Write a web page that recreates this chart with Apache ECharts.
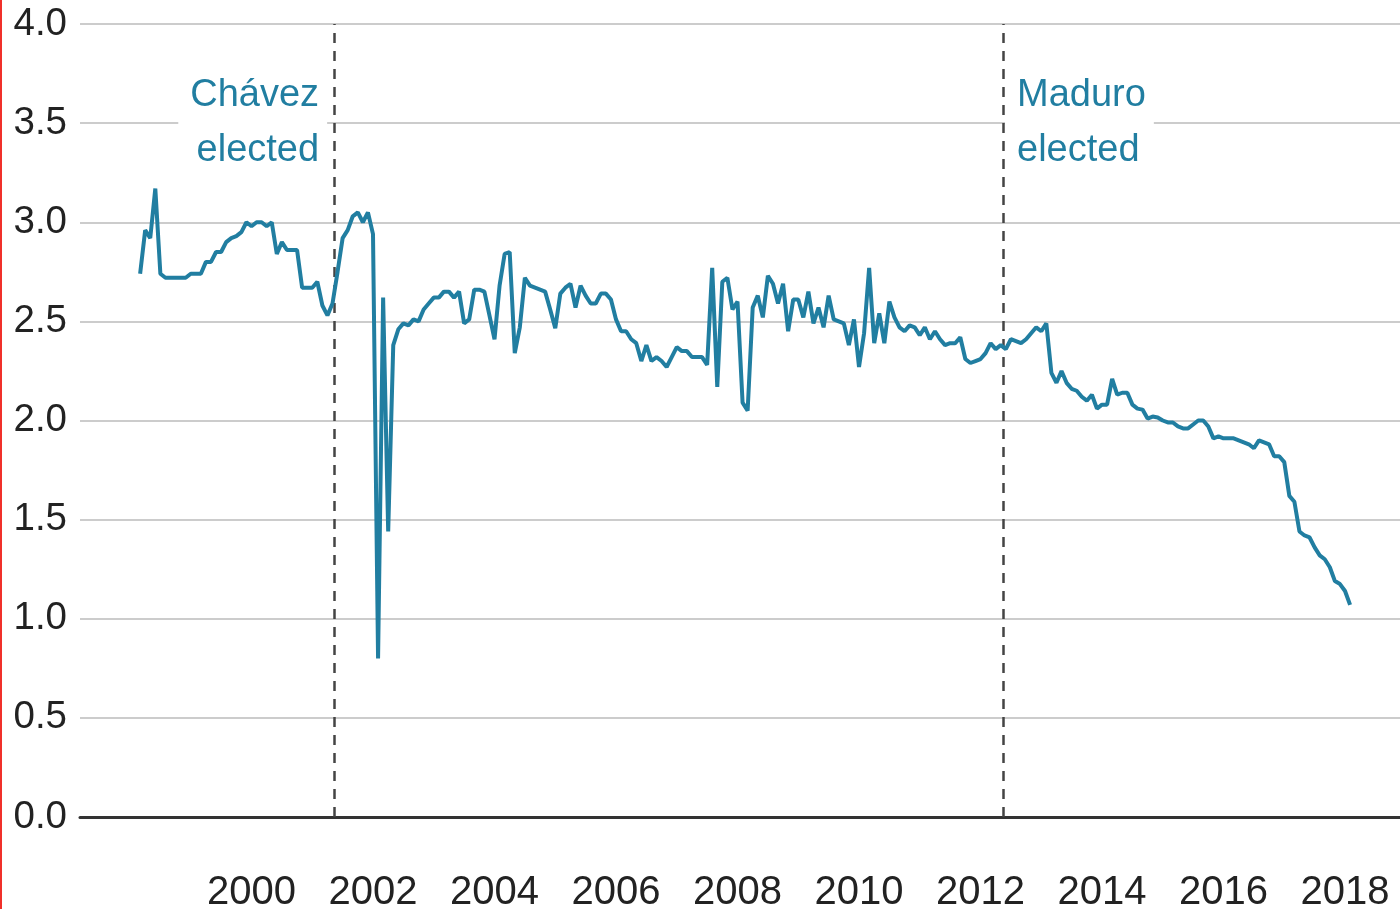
<!DOCTYPE html>
<html><head><meta charset="utf-8">
<script src="https://cdn.jsdelivr.net/npm/echarts@6/dist/echarts.min.js"></script>
<style>html,body{margin:0;padding:0;background:#fff}#c{width:1400px;height:909px}#edge{position:absolute;left:0;top:0;width:2px;height:909px;background:#f0302a}</style>
</head><body><div id="c"></div><div id="edge"></div>
<script>
// Monthly series, first value = March 1998
const START_YEAR = 1998, START_MONTH = 3;
const values = [
  2.74,2.96,2.92,3.17,2.74,2.72,2.72,2.72,2.72,2.72,
  2.74,2.74,2.74,2.80,2.80,2.85,2.85,2.90,2.92,2.93,
  2.95,3.00,2.98,3.00,3.00,2.98,3.00,2.84,2.90,2.86,
  2.86,2.86,2.67,2.67,2.67,2.70,2.58,2.53,2.59,2.75,
  2.92,2.96,3.03,3.05,3.00,3.05,2.94,0.80,2.62,1.44,
  2.38,2.46,2.49,2.48,2.51,2.50,2.56,2.59,2.62,2.62,
  2.65,2.65,2.62,2.65,2.49,2.51,2.66,2.66,2.65,2.53,
  2.41,2.68,2.84,2.85,2.34,2.47,2.72,2.68,2.67,2.66,
  2.65,2.56,2.465,2.64,2.67,2.69,2.57,2.68,2.63,2.59,
  2.59,2.64,2.64,2.61,2.51,2.45,2.45,2.41,2.39,2.30,
  2.38,2.30,2.32,2.30,2.27,2.32,2.37,2.35,2.35,2.32,
  2.32,2.32,2.28,2.77,2.17,2.70,2.72,2.56,2.60,2.09,
  2.05,2.57,2.63,2.52,2.73,2.69,2.59,2.69,2.45,2.61,
  2.61,2.52,2.65,2.49,2.57,2.47,2.63,2.51,2.50,2.49,
  2.38,2.51,2.27,2.44,2.77,2.39,2.54,2.39,2.60,2.52,
  2.47,2.45,2.48,2.47,2.43,2.47,2.41,2.45,2.41,2.38,
  2.39,2.39,2.42,2.31,2.29,2.30,2.31,2.34,2.39,2.36,
  2.38,2.36,2.41,2.40,2.39,2.41,2.44,2.47,2.45,2.49,
  2.24,2.19,2.25,2.19,2.16,2.15,2.12,2.10,2.13,2.06,
  2.08,2.08,2.21,2.13,2.14,2.14,2.08,2.06,2.055,2.01,
  2.02,2.015,2.00,1.99,1.99,1.97,1.96,1.96,1.98,2.00,
  2.00,1.97,1.91,1.92,1.91,1.91,1.91,1.90,1.89,1.88,
  1.86,1.90,1.89,1.88,1.82,1.82,1.79,1.62,1.59,1.44,
  1.42,1.41,1.36,1.32,1.30,1.26,1.19,1.175,1.14,1.07
];
const xTickYears = [2000,2002,2004,2006,2008,2010,2012,2014,2016,2018];
const yMin = 0, yMax = 4, yStep = 0.5;
const eventYears = [2001.36, 2012.37];
const eventLabels = ['Chávez\nelected', 'Maduro\nelected'];
const eventLabelLevel = 3.5;

const seriesData = values.map((v, i) => [START_YEAR + (START_MONTH - 1 + i) / 12, v]);
const FONT = '"Liberation Sans", Arial, Helvetica, sans-serif';
const TEAL = '#217ea1';

const chart = echarts.init(document.getElementById('c'), null, {renderer: 'canvas'});
chart.setOption({
  animation: false,
  backgroundColor: '#fff',
  grid: {left: 80, right: 0, top: 24, bottom: 92, containLabel: false, outerBoundsMode: 'none'},
  xAxis: {
    type: 'value', min: 1997.177, max: 2018.905,
    axisLine: {show: true, onZero: true, lineStyle: {color: '#333', width: 3}},
    axisTick: {show: false},
    splitLine: {show: false},
    axisLabel: {
      customValues: xTickYears, margin: 56,
      fontFamily: FONT, fontSize: 40, color: '#222',
      formatter: v => String(Math.round(v))
    }
  },
  yAxis: {
    type: 'value', min: yMin, max: yMax, interval: yStep,
    axisLine: {show: false}, axisTick: {show: false},
    splitLine: {show: true, lineStyle: {color: '#cccccc', width: 2}},
    axisLabel: {margin: 13, fontFamily: FONT, fontSize: 38.5, color: '#222', padding: [8, 0, 0, 0],
      formatter: v => v.toFixed(1)}
  },
  series: [{
    type: 'line', data: seriesData, showSymbol: false, symbol: 'none',
    lineStyle: {color: TEAL, width: 4}, z: 5,
    markLine: {
      silent: true, symbol: ['none', 'none'], label: {show: false},
      lineStyle: {color: '#444', width: 2.5, type: [10, 8]},
      data: eventYears.map(y => ({xAxis: y}))
    },
    markPoint: {
      silent: true, symbol: 'circle', symbolSize: 0,
      data: eventYears.map((y, k) => ({
        coord: [y, eventLabelLevel],
        label: {
          show: true, position: k === 0 ? 'left' : 'right', distance: k === 0 ? 7 : 2,
          formatter: eventLabels[k], align: k === 0 ? 'right' : 'left',
          fontFamily: FONT, fontSize: 38, lineHeight: 55, color: TEAL,
          backgroundColor: '#fff', padding: [14, 8, 4, 12]
        }
      }))
    }
  }]
});
</script></body></html>
